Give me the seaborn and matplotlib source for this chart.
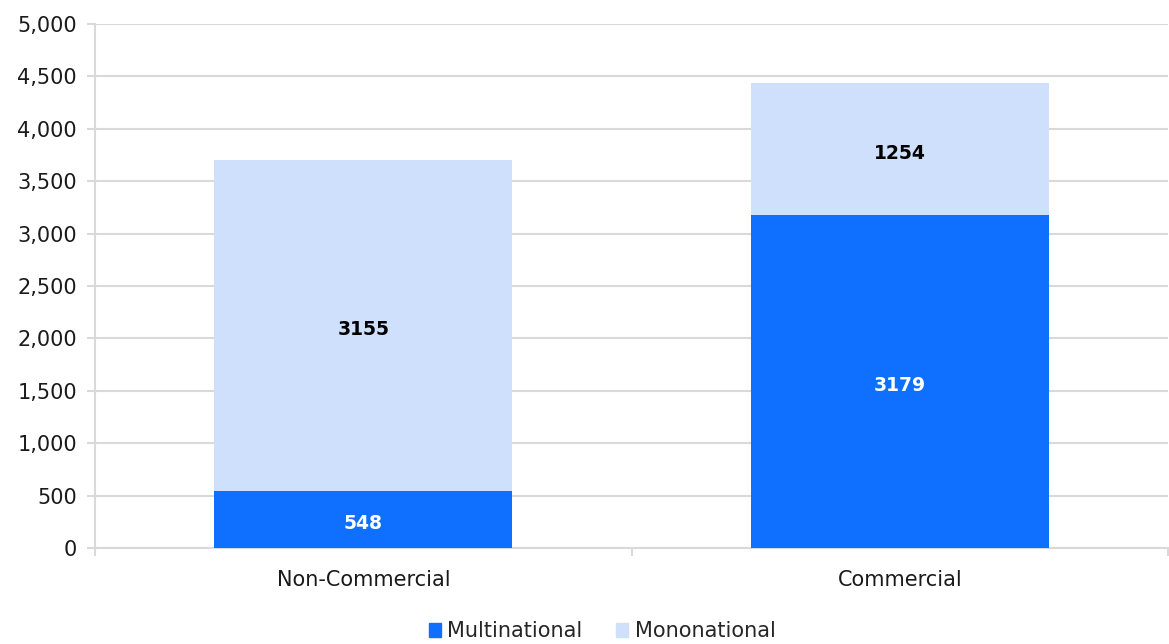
import pandas as pd
import matplotlib.pyplot as plt
import seaborn as sns
from matplotlib.patches import Patch

# Data
categories = ['Non-Commercial', 'Commercial']
multinational = [548, 3179]
mononational = [3155, 1254]

multi_color = '#0F6FFF'
mono_color = '#CFE0FC'
grid_color = '#D9D9D9'

sns.set_theme(style='white')
plt.rcParams['font.family'] = ['DejaVu Sans']

df = pd.DataFrame({'category': categories,
                   'Multinational': multinational,
                   'Mononational': mononational})

fig = plt.figure(figsize=(11.69, 6.44), dpi=100)
ax = fig.add_axes([0.0813, 0.149, 0.918, 0.814])

sns.barplot(data=df, x='category', y='Multinational', color=multi_color,
            width=0.555, saturation=1, ax=ax, zorder=3, linewidth=0)
sns.barplot(data=df, x='category', y='Mononational', color=mono_color,
            width=0.555, saturation=1, ax=ax, zorder=3, linewidth=0,
            bottom=df['Multinational'])

# value labels
for i, (m, n) in enumerate(zip(multinational, mononational)):
    ax.text(i, m / 2 - 40, str(m), ha='center', va='center', fontsize=13.5,
            fontweight='bold', color='white', zorder=4)
    ax.text(i, m + n / 2 - 40, str(n), ha='center', va='center', fontsize=13.5,
            fontweight='bold', color='black', zorder=4)

ax.set_ylim(0, 5000)
ax.set_xlim(-0.5, 1.5)
ax.set_yticks(range(0, 5001, 500))
ax.set_yticklabels([f'{v:,}' for v in range(0, 5001, 500)])
ax.yaxis.grid(True, color=grid_color, linewidth=1.5, zorder=0)
ax.set_axisbelow(True)

for side in ['top', 'right']:
    ax.spines[side].set_visible(False)
for side in ['left', 'bottom']:
    ax.spines[side].set_color(grid_color)
    ax.spines[side].set_linewidth(1.5)

ax.tick_params(axis='y', which='major', length=6, width=1.5, color=grid_color,
               labelsize=15, labelcolor='#1a1a1a', pad=7, left=True)
ax.tick_params(axis='x', which='major', length=0, labelsize=15,
               labelcolor='#1a1a1a', pad=16)
ax.set_xticks([-0.5, 0.5, 1.5], minor=True)
ax.tick_params(axis='x', which='minor', length=6, width=1.5, color=grid_color,
               bottom=True)
ax.set_xlabel('')
ax.set_ylabel('')

handles = [Patch(color=multi_color, label='Multinational'),
           Patch(color=mono_color, label='Mononational')]
fig.legend(handles=handles, loc='lower center', ncol=2, frameon=False,
           bbox_to_anchor=(0.515, -0.025), fontsize=15, handlelength=0.6,
           handleheight=0.6, handletextpad=0.3, columnspacing=1.6)

fig.savefig('out.png', dpi=100)
